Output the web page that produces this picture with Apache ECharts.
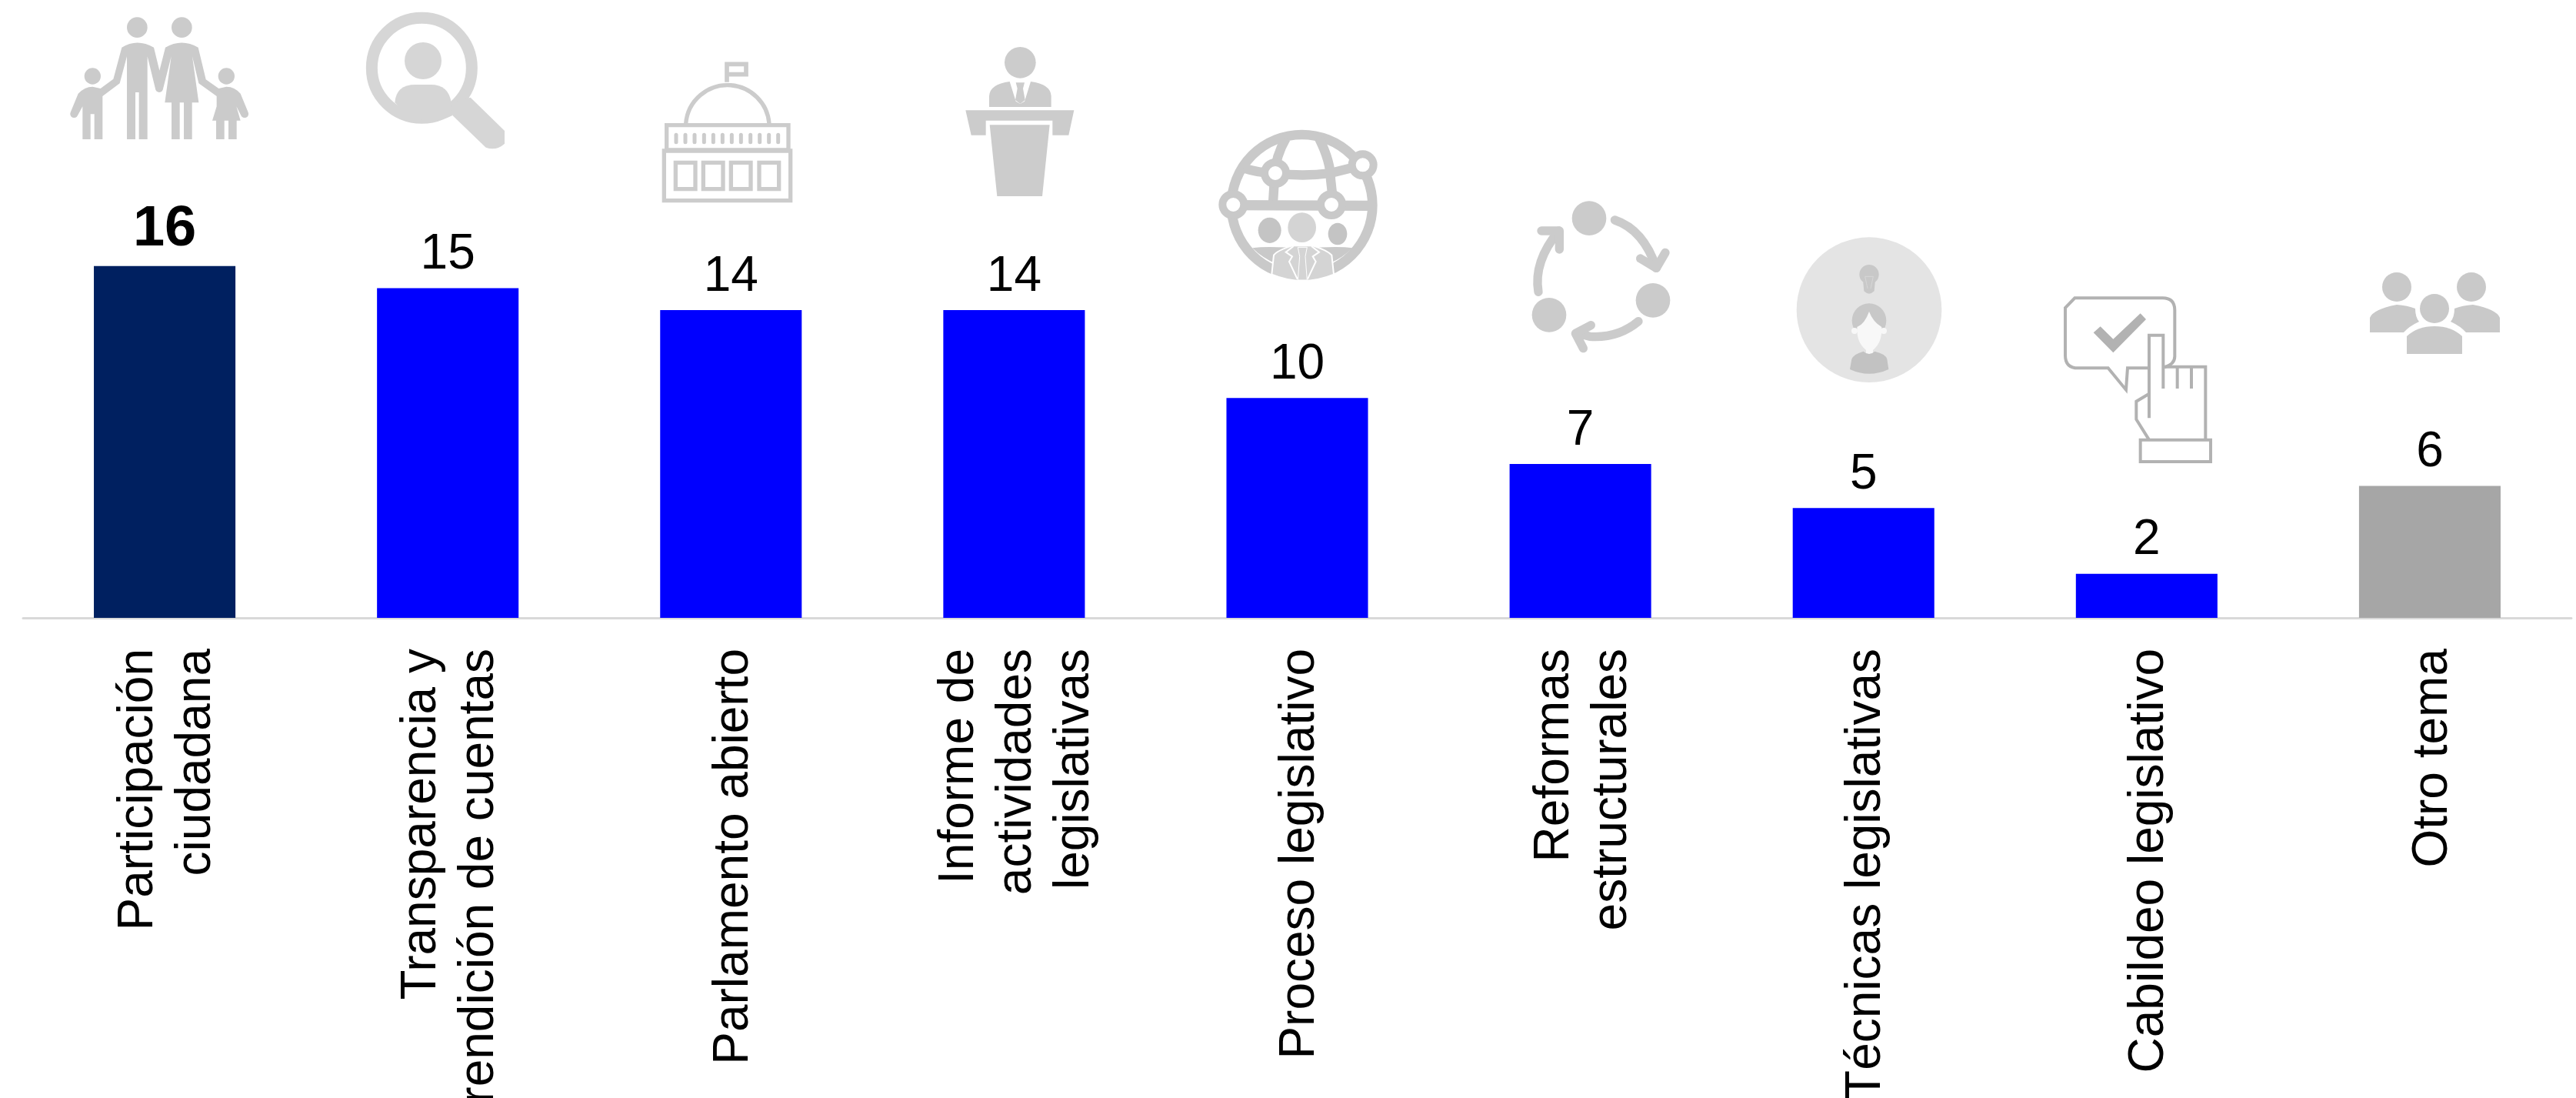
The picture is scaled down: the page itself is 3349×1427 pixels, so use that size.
<!DOCTYPE html>
<html><head><meta charset="utf-8">
<style>html,body{margin:0;padding:0;background:#fff}#c{width:3349px;height:1427px}</style>
<script src="https://cdn.jsdelivr.net/npm/echarts@6/dist/echarts.min.js"></script>
</head><body><div id="c"></div>
<script>
const categories = ["Participación\nciudadana","Transparencia y\nrendición de cuentas","Parlamento abierto","Informe de\nactividades\nlegislativas","Proceso legislativo","Reformas\nestructurales","Técnicas legislativas","Cabildeo legislativo","Otro tema"];
const values = [16,15,14,14,10,7,5,2,6];
const barColors = ["#002060","#0000FF","#0000FF","#0000FF","#0000FF","#0000FF","#0000FF","#0000FF","#A6A6A6"];

// icon helpers
const P=(d,fill,stroke,lw,cap)=>({type:'path',shape:{pathData:d},style:{fill:fill||'none',stroke:stroke||'none',lineWidth:lw||0,lineCap:cap||'butt',lineJoin:cap==='round'?'round':'miter'}});
const C=(cx,cy,r,fill,stroke,lw)=>({type:'circle',shape:{cx,cy,r},style:{fill:fill||'none',stroke:stroke||'none',lineWidth:lw||0}});
const E=(cx,cy,rx,ry,fill)=>({type:'ellipse',shape:{cx,cy,rx,ry},style:{fill}});
const R=(x,y,w,h,fill,stroke,lw)=>({type:'rect',shape:{x,y,width:w,height:h},style:{fill:fill||'none',stroke:stroke||'none',lineWidth:lw||0}});
const icon=(x,y,children,s)=>({type:'group',x,y,scaleX:s||1/3,scaleY:s||1/3,silent:true,children});

const g1='#cbcbcb';
const family=icon(90,10,[
 C(265,77,40,g1),C(439,77,40,g1),C(91,267,32,g1),C(613,267,32,g1),
 P('M35,335 Q60,308 91,308 L122,315 L172,278 L205,155 Q265,118 330,155 L352,245 L375,155 Q439,118 503,155 L533,280 L583,315 L613,308 Q645,308 668,335 L698,408 A15,15 0 0 1 670,420 L652,385 L668,440 L653,440 L653,513 L621,513 L621,440 L605,440 L605,513 L573,513 L573,440 L558,440 L575,385 L575,345 L505,295 L480,190 L505,370 L479,370 L479,513 L447,513 L447,370 L431,370 L431,513 L399,513 L399,370 L373,370 L398,190 L365,320 A15,15 0 0 1 337,320 L305,190 L305,513 L272,513 L272,330 L258,330 L258,513 L225,513 L225,190 L197,295 L130,345 L130,513 L98,513 L98,415 L83,415 L83,513 L52,513 L52,385 L33,420 A15,15 0 0 1 5,408 Z',g1)
]);
const g2='#d6d6d6';
const search=icon(460,0,[
 C(265,265,195,'none',g2,45),C(270,237,72,g2),
 P('M160,400 Q165,330 240,330 L300,330 Q370,330 380,400 L385,450 Q265,510 160,400 Z',g2),
 P('M455,380 L588,510 L588,560 Q555,590 515,575 L385,450 L380,400 Z',g2)
]);
const g3='#cccccc';
const capitol=icon(850,70,[
 P('M285,110 V40 H360 V80 H285',null,g3,17),
 P('M125,272 A163,163 0 0 1 450,272',null,g3,16),
 R(50,278,475,97,null,g3,16),R(40,378,493,194,null,g3,16),
 R(85,424,77,103,null,g3,16),R(193,424,77,103,null,g3,16),R(301,424,77,103,null,g3,16),R(411,424,77,103,null,g3,16),
 ...[87,123,159,196,232,268,304,340,377,413,449,485].map(x=>P(`M${x},316 V344`,null,g3,15,'round'))
]);
const podium=icon(1230,50,[
 C(289,94,61,g3),
 P('M168,267 V225 Q170,178 248,168 L272,245 L289,255 L306,245 L330,168 Q408,178 410,225 V267 Z',g3),
 P('M272,172 L306,172 L300,195 L308,240 L289,255 L270,240 L278,195 Z',g3),
 P('M76,280 L499,280 L478,377 L415,377 L415,320 L155,320 L155,377 L98,377 Z',g3),
 P('M170,337 L404,337 L375,615 L199,615 Z',g3)
]);
const g5='#c9c9c9';
const globe=icon(1570,160,[
 C(368,320,275,'none',g5,38),
 P('M305,60 Q265,130 262,200 L255,310',null,g5,37),
 P('M435,60 Q480,150 480,220 L490,310',null,g5,37),
 P('M140,175 Q200,195 262,195 Q370,210 480,195 L600,165',null,g5,37),
 P('M100,320 L630,322',null,g5,40),
 C(264,195,42,'#fff',g5,30),C(605,163,42,'#fff',g5,30),C(100,318,42,'#fff',g5,30),C(483,318,42,'#fff',g5,30),
 E(242,418,45,50,'#c4c4c4'),E(507,432,37,43,'#c4c4c4'),E(368,407,55,58,'#d4d4d4'),
 P('M175,487 Q240,478 370,490 Q500,478 565,487 A275,275 0 0 1 175,487 Z',g5),
 P('M250,590 L258,515 Q270,497 330,478 L410,478 Q470,497 484,515 L492,590 Q370,640 250,590 Z','#d4d4d4','#fff',6),
 P('M335,480 L305,503 L330,520 L318,540 L350,608',null,'#fff',6),
 P('M405,480 L435,503 L410,520 L422,540 L390,608',null,'#fff',6),
 P('M352,484 H388 L381,520 L388,612 H352 L359,520 Z','#d4d4d4','#fff',3)
]);
const g6='#cbcbcb';
const cycle=icon(1960,250,[
 C(318,101,67,g6),C(567,421,67,g6),C(162,478,67,g6),
 P('M418,108 Q530,145 580,295',null,g6,34,'round'),P('M615,235 L580,295 L518,258',null,g6,34,'round'),
 P('M510,503 Q430,570 320,562 L275,550',null,g6,34,'round'),P('M325,518 L265,550 L295,608',null,g6,34,'round'),
 P('M120,388 Q100,270 200,150',null,g6,34,'round'),P('M132,150 L202,150 L202,222',null,g6,34,'round')
]);
const technique=icon(2320,290,[
 C(330,338,283,'#e4e4e4'),
 C(330,200,38,'#c8c8c8'),P('M306,222 L354,222 L350,265 Q330,285 310,265 Z','#c8c8c8'),
 P('M314,208 H346 L336,255 M324,255 L314,208',null,'#dedede',2),
 C(330,380,67,'#c8c8c8'),
 C(273,420,12,'#f8f8f8'),C(387,420,12,'#f8f8f8'),
 P('M283,405 Q312,395 330,345 Q345,385 379,405 Q382,465 345,495 V510 H318 V495 Q280,465 283,405 Z','#f8f8f8'),
 P('M255,570 L262,530 Q270,510 308,500 Q330,520 352,500 Q395,510 400,530 L406,570 Q330,605 255,570 Z','#c2c2c2')
]);
const g8='#b2b2b2';
const lobby=icon(2670,370,[
 P('M432,322 Q472,310 472,280 V100 Q472,52 425,52 H82 L45,90 V275 Q45,325 95,325 H212 L282,410 L288,325 H372',null,g8,12),
 P('M155,187 L182,163 L232,212 L338,112 L360,135 L232,265 Z',g8),
 P('M372,520 V197 H427 V405',null,g8,12),
 P('M482,322 V405',null,g8,12),P('M537,322 V405',null,g8,12),
 P('M427,320 H592 V605',null,g8,12),
 P('M372,425 L322,455 V525 L372,605',null,g8,12),
 R(338,605,274,85,null,g8,12)
]);
const g9='#c9c9c9';
const people=icon(0,0,[
 C(3116,373,19,g9),C(3213,373,19,g9),
 P('M3081,432 V413 Q3085,402 3116,396 Q3130,397 3140,401 Q3140,412 3145,418 Q3132,424 3125,432 Z',g9),
 P('M3250,432 V413 Q3246,402 3215,396 Q3201,397 3191,401 Q3191,412 3186,418 Q3199,424 3206,432 Z',g9),
 C(3165,401,19,g9),
 P('M3129,460 V437 Q3143,424 3165,424 Q3187,424 3201,437 V460 Z',g9)
],1);
const icons=[family,search,capitol,podium,globe,cycle,technique,lobby,people];

const chart=echarts.init(document.getElementById('c'),null,{renderer:'canvas'});
const FONT='"Liberation Sans",Arial,sans-serif';
chart.setOption({
 animation:false,
 backgroundColor:'#fff',
 grid:[
  {left:30,right:6,top:3,bottom:624,containLabel:false,outerBoundsMode:'none'},
  {left:34,right:2,top:3,bottom:624,containLabel:false,outerBoundsMode:'none'}
 ],
 xAxis:[
  {type:'category',data:categories,gridIndex:0,
   axisLine:{show:true,lineStyle:{color:'#D9D9D9',width:3}},axisTick:{show:false},axisLabel:{show:false}},
  {type:'category',data:categories,gridIndex:1,
   axisLine:{show:false},axisTick:{show:false},
   axisLabel:{interval:0,rotate:90,margin:40,fontSize:64,lineHeight:75,color:'#000',fontFamily:FONT,hideOverlap:false}}
 ],
 yAxis:[
  {type:'value',gridIndex:0,min:0,max:28,show:false,splitLine:{show:false}},
  {type:'value',gridIndex:1,min:0,max:28,show:false,splitLine:{show:false}}
 ],
 series:[{type:'bar',barWidth:'50%',xAxisIndex:0,yAxisIndex:0,
  data:values.map((v,i)=>({value:v,itemStyle:{color:barColors[i]},
    label:i===0?{fontSize:74,fontWeight:'bold',distance:10}:undefined})),
  label:{show:true,position:'top',distance:11,fontSize:64,color:'#000',fontFamily:FONT}},
  {type:'custom',coordinateSystem:'none',silent:true,data:icons.map((_,i)=>i),
   renderItem:(params)=>icons[params.dataIndex]}]
});
</script></body></html>
